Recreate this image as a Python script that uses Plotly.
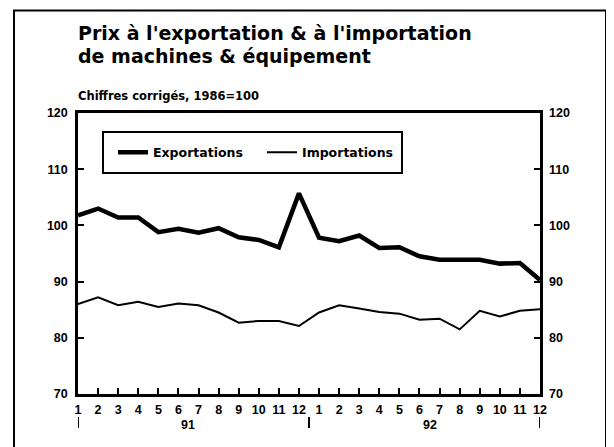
import plotly.graph_objects as go

months = list(range(1, 25))
month_labels = [str(m) for m in range(1, 13)] * 2
year_labels = ["91", "92"]
year_label_pos = [6.5, 18.5]
year_bar_pos = [1, 12.5, 24]

exportations = [101.8, 103.0, 101.4, 101.4, 98.8, 99.4, 98.7, 99.5, 97.9, 97.4, 96.1, 105.7,
                97.8, 97.2, 98.2, 96.0, 96.1, 94.5, 93.9, 93.9, 93.9, 93.2, 93.3, 90.3]
importations = [86.0, 87.2, 85.8, 86.4, 85.5, 86.1, 85.8, 84.5, 82.7, 83.0, 83.0, 82.1,
                84.5, 85.8, 85.2, 84.6, 84.3, 83.2, 83.4, 81.5, 84.8, 83.8, 84.8, 85.1]
y_ticks = [70, 80, 90, 100, 110, 120]

# page offset of the plot div (body margin)
OFF = 8
W, H = 614 - OFF, 447 - OFF
# plot area in page pixels
L, R, T, B = 78, 540, 113, 394
pw, ph = R - L, B - T

def px(x):
    return (x - L) / pw

def py(y):
    return (B - y) / ph

TICKFONT = dict(family="Liberation Sans", size=12.5, color="black", weight="bold")

fig = go.Figure()
fig.add_trace(go.Scatter(x=months, y=exportations, mode="lines", name="Exportations",
                         line=dict(color="black", width=4.5)))
fig.add_trace(go.Scatter(x=months, y=importations, mode="lines", name="Importations",
                         line=dict(color="black", width=2)))
fig.add_trace(go.Scatter(x=months, y=importations, mode="lines", yaxis="y2",
                         line=dict(color="rgba(0,0,0,0)", width=0), showlegend=False,
                         hoverinfo="skip"))

fig.update_layout(
    width=W, height=H,
    margin=dict(l=L - OFF, r=614 - R, t=T - OFF, b=447 - B),
    paper_bgcolor="white", plot_bgcolor="white",
    showlegend=True,
    legend=dict(orientation="h", x=px(113), xanchor="left", y=py(152.5), yanchor="middle",
                bgcolor="rgba(0,0,0,0)", borderwidth=0, itemwidth=30, entrywidth=104,
                font=dict(family="DejaVu Sans", size=12.5, color="black", weight="bold")),
    xaxis=dict(range=[1, 24], tickvals=months, ticktext=month_labels, ticks="inside",
               ticklen=6, tickwidth=2, tickcolor="black", showline=True, linewidth=2.5,
               linecolor="black", mirror=True, showgrid=False, zeroline=False,
               tickfont=TICKFONT, tickangle=0, ticklabelstandoff=2),
    yaxis=dict(range=[70, 120], tickvals=y_ticks, ticks="inside", ticklen=6, tickwidth=2,
               tickcolor="black", showline=True, linewidth=2.5, linecolor="black",
               mirror=True, showgrid=False, zeroline=False, tickfont=TICKFONT,
               ticklabelstandoff=5),
    yaxis2=dict(range=[70, 120], tickvals=y_ticks, overlaying="y", side="right",
                ticks="inside", ticklen=6, tickwidth=2, tickcolor="black",
                showline=False, showgrid=False, zeroline=False, tickfont=TICKFONT,
                ticklabelstandoff=8),
)

# Title and subtitle
fig.add_annotation(text="Prix à l'exportation & à l'importation", xref="paper", yref="paper",
                   x=px(76), y=py(33), xanchor="left", yanchor="middle", showarrow=False,
                   font=dict(family="DejaVu Sans", size=19, color="black", weight="bold"))
fig.add_annotation(text="de machines & équipement", xref="paper", yref="paper",
                   x=px(76), y=py(56), xanchor="left", yanchor="middle", showarrow=False,
                   font=dict(family="DejaVu Sans", size=19, color="black", weight="bold"))
fig.add_annotation(text="Chiffres corrigés, 1986=100", xref="paper", yref="paper",
                   x=px(76), y=py(96), xanchor="left", yanchor="middle", showarrow=False,
                   font=dict(family="DejaVu Sans", size=11.5, color="black", weight="bold"))

# Year labels and separators
for lab, pos in zip(year_labels, year_label_pos):
    fig.add_annotation(text=lab, x=pos, xref="x", yref="paper", y=py(425), yanchor="middle",
                       showarrow=False, font=TICKFONT)
for pos in year_bar_pos:
    fig.add_shape(type="line", x0=pos, x1=pos, xref="x", yref="paper",
                  y0=py(417), y1=py(428), line=dict(color="black", width=2))

# Legend box
fig.add_shape(type="rect", xref="paper", yref="paper", x0=px(103), x1=px(402),
              y0=py(173), y1=py(132), line=dict(color="black", width=2))
# Outer frame
fig.add_shape(type="rect", xref="paper", yref="paper", x0=px(14), x1=px(606),
              y0=py(470), y1=py(10.5), line=dict(color="black", width=2))

fig.write_html("out.html")
